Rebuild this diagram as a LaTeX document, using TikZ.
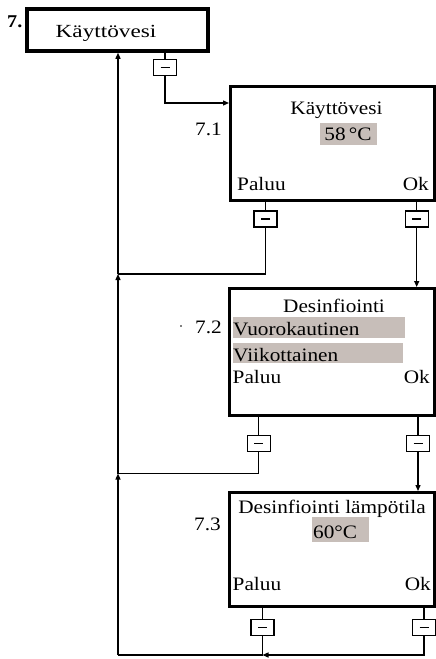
\documentclass[tikz,border=0pt]{standalone}
\usepackage{fontspec}
\setmainfont{Liberation Serif}[FakeStretch=1.12]
\usetikzlibrary{arrows.meta,calc}
\definecolor{hl}{RGB}{199,190,185}
\begin{document}
\begin{tikzpicture}[x=1pt,y=-1pt,
  screen/.style={draw, line width=3pt, inner sep=0pt},
  btn/.style={draw, line width=1.3pt, minimum width=23pt, minimum height=16pt, inner sep=0pt, fill=white,
    path picture={\draw[line width=1.3pt] ($(path picture bounding box.center)+(-4.5pt,0pt)$) -- ($(path picture bounding box.center)+(4.5pt,0pt)$);}},
  conn/.style={line width=1.3pt},
  arr/.style={conn, -{Triangle[length=6pt,width=5pt]}},
  txt/.style={inner sep=0pt, font=\fontsize{19}{22}\selectfont},
  hlbox/.style={fill=hl, inner sep=0pt}]
\useasboundingbox (0,0) rectangle (436,659);

% screens
\node[screen, line width=3.5pt, minimum width=181pt, minimum height=42pt] (s0) at (117.5,30) {};
\node[screen, minimum width=203.5pt, minimum height=114pt] (s1) at (332.25,143.5) {};
\node[screen, minimum width=204.5pt, minimum height=127pt] (s2) at (331.75,352) {};
\node[screen, minimum width=204.5pt, minimum height=113.5pt] (s3) at (331.75,549.25) {};

% highlights
\node[hlbox, minimum width=57pt, minimum height=22pt] (h1) at (348.5,134) {};
\node[hlbox, minimum width=172pt, minimum height=21pt] (h2a) at (319,327.5) {};
\node[hlbox, minimum width=170pt, minimum height=20pt] (h2b) at (318,353) {};
\node[hlbox, minimum width=57pt, minimum height=25pt] (h3) at (340.5,529.5) {};

% texts
\node[txt, font=\fontsize{18.5}{21}\selectfont, anchor=base] (t0) at (106,37) {\scalebox{1.12}[1]{Käyttövesi}};
\node[txt, font=\bfseries\fontsize{18}{20}\selectfont, anchor=base west] (l0) at (7,27) {7.};

\node[txt, anchor=base] (t1) at (336.5,114) {Käyttövesi};
\node[txt, anchor=base] (v1) at (348,140) {58\,°C};
\node[txt, anchor=base west] (p1) at (237,190) {Paluu};
\node[txt, anchor=base east] (o1) at (429,190) {Ok};
\node[txt, anchor=base east] (l1) at (222,135) {7.1};

\node[txt, anchor=base] (t2) at (334,312) {Desinfiointi};
\node[txt, anchor=base west] (v2a) at (233,335) {Vuorokautinen};
\node[txt, anchor=base west] (v2b) at (233,361) {Viikottainen};
\node[txt, anchor=base west] (p2) at (232.5,383) {Paluu};
\node[txt, anchor=base east] (o2) at (430,383) {Ok};
\node[txt, anchor=base east] (l2) at (222,333) {7.2};
\fill (181,326) circle (0.8pt);

\node[txt, anchor=base] (t3) at (332,513) {Desinfiointi lämpötila};
\node[txt, anchor=base west] (v3) at (313,538) {60°C};
\node[txt, anchor=base west] (p3) at (232.5,590) {Paluu};
\node[txt, anchor=base east] (o3) at (431,590) {Ok};
\node[txt, anchor=base east] (l3) at (221,530) {7.3};

% buttons
\node[btn] (b0) at (165,67.7) {};
\node[btn] (b1p) at (265.5,219) {};
\node[btn] (b1o) at (416.7,219) {};
\node[btn] (b2p) at (258.7,443.3) {};
\node[btn] (b2o) at (418,443.3) {};
\node[btn] (b3p) at (262.5,627.3) {};
\node[btn] (b3o) at (424,627.3) {};

% junction coordinates
\coordinate (j0) at (200,103);
\coordinate (r1) at (118,274);
\coordinate (r2) at (118,473.5);
\coordinate (r3) at (118,655);

% connectors
\draw[conn] (b0 |- s0.south) -- (b0.north);
\draw[arr] (b0.south) |- (j0 -| s1.west);

\draw[conn] (b1p |- s1.south) -- (b1p.north);
\draw[conn] (b1o |- s1.south) -- (b1o.north);
\draw[conn] (b1p.south) |- (r1);
\draw[arr] (b1o.south) -- (b1o |- s2.north);

\draw[conn] (b2p |- s2.south) -- (b2p.north);
\draw[conn] (b2o |- s2.south) -- (b2o.north);
\draw[conn] (b2p.south) |- (r2);
\draw[arr] (b2o.south) -- (b2o |- s3.north);

\draw[conn] (b3p |- s3.south) -- (b3p.north);
\draw[conn] (b3o |- s3.south) -- (b3o.north);
\draw[conn] (b3p.south) -- (b3p |- r3);
\draw[arr] (b3o.south) |- (b3p |- r3);
\draw[conn] (b3p |- r3) -- (r3);

\draw[arr] (r3) -- (r2);
\draw[arr] (r2) -- (r1);
\draw[arr] (r1) -- (r1 |- s0.south);
\end{tikzpicture}
\end{document}
